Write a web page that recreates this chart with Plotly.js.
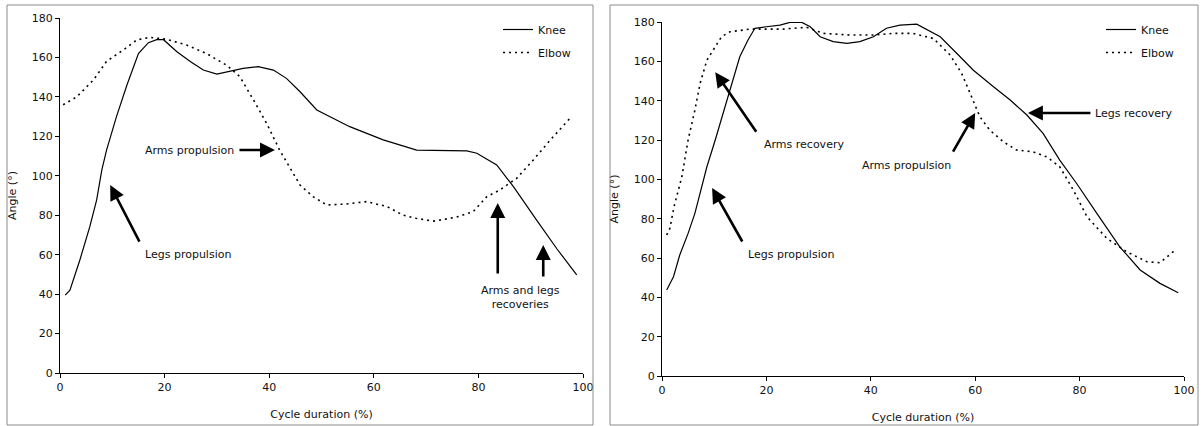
<!DOCTYPE html>
<html>
<head>
<meta charset="utf-8">
<script src="https://cdn.plot.ly/plotly-3.0.1.min.js"></script>
<style>html,body{margin:0;padding:0;background:#fff;}#chart{width:1202px;height:426px;}</style>
</head>
<body>
<div id="chart"></div>
<script>
// ---- Data ----
var seriesNames = ["Knee", "Elbow"];
var xTicks = [0, 20, 40, 60, 80, 100];
var yTicks = [0, 20, 40, 60, 80, 100, 120, 140, 160, 180];

// Left panel
var kneeLeftX = [1,1.9,3.8,5.7,7,8,8.9,10.8,12.8,15,16.9,18.5,19.8,22.3,24.9,27.4,30,32.5,35,37.9,40.8,43.3,45.9,49.1,55.4,61.8,68.2,77.8,79.7,83.5,86.7,91.1,95,98.8];
var kneeLeftY = [39.5,42,57.3,74.2,87.7,103,113,130,146,162,167.5,169,169,163,158,153.6,151.6,153,154.5,155.3,153.6,149.4,142.6,133.4,124.9,118.2,113,112.6,111.4,105.5,94.5,77.6,63,49.7];
var elbowLeftX = [0.6,3.2,6.4,8.9,12.1,14.7,17.2,20.4,24.2,28,31.9,34.4,37,39.5,42,44.6,45.9,48.4,51,54.8,58.6,62.5,65.6,68,71.4,75.8,79,81.6,84.1,87.3,90.5,93.7,97.8];
var elbowLeftY = [136,140,148.6,158,163.8,168.9,170.2,169.2,166.3,162,156,150.2,138.4,126.6,113,101.2,95.3,89.4,85.2,85.7,86.9,84.4,80,78.5,77,79,81.8,89.4,92.8,98.7,108,118,130];

// Right panel
var kneeRightX = [0.9,2.2,3.4,5,6.3,7.3,8.6,10.2,12.1,13.7,14.9,16.5,17.8,20,22.6,24.5,26.8,28.4,30.3,32.8,35.4,37.9,40.5,43,45.6,48.8,53.3,56.5,59.6,63.5,66.7,69.9,73,76.2,79.4,83.3,87.7,91.6,95.4,98.9];
var kneeRightY = [43.7,50.5,61.5,72.5,82.7,92.9,106.4,120,136.9,150.5,162.3,171,176.8,177.6,178.4,179.8,179.8,177.6,172.5,170,169.1,170,172.5,176.8,178.4,178.9,172.5,164,155.6,147.1,140.3,132.7,123.4,109.8,98,82.7,65.7,53.9,47.1,42.3];
var elbowRightX = [0.9,1.5,2.3,3.8,5,6.3,7.3,8.6,10.2,11.4,13,16.9,23.2,27.7,30.9,36,40.5,44.3,48.1,52,55.2,57.4,59.3,60.9,62.8,65.4,67.9,71.1,73.7,76.2,78.8,81.4,85.2,89,92.9,95.4,98.3];
var elbowRightY = [71.7,75,86,101.3,120,135.2,148.8,160.6,167.4,172.5,175,176.4,176.4,177.3,174.2,173.4,173.4,174.2,174.2,171.6,163.2,153.9,142,131.8,125,119.1,114.9,114,111.4,106.4,94.6,81,70,63.2,58.1,57.6,64];

// Annotation labels
var leftLabels = ["Arms propulsion", "Legs propulsion", "Arms and legs<br>recoveries"];
var rightLabels = ["Arms recovery", "Legs propulsion", "Arms propulsion", "Legs recovery"];

// ---- Layout helpers ----
var W = 1202, H = 426;
function px(x) { return x / W; }
function py(y) { return 1 - y / H; }

var FONT = "'DejaVu Sans', Verdana, sans-serif";
var TXT = {family: FONT, size: 11, color: "#111"};
var kneeLine = {color: "#000", width: 1.2};
var elbowLine = {color: "#000", width: 1.6, dash: "2px,4px"};

var traces = [
  {x: kneeLeftX, y: kneeLeftY, xaxis: "x", yaxis: "y", name: seriesNames[0], mode: "lines", line: kneeLine, legend: "legend", legendgroup: "a"},
  {x: elbowLeftX, y: elbowLeftY, xaxis: "x", yaxis: "y", name: seriesNames[1], mode: "lines", line: elbowLine, legend: "legend", legendgroup: "b"},
  {x: kneeRightX, y: kneeRightY, xaxis: "x2", yaxis: "y2", name: seriesNames[0], mode: "lines", line: kneeLine, legend: "legend2", legendgroup: "c"},
  {x: elbowRightX, y: elbowRightY, xaxis: "x2", yaxis: "y2", name: seriesNames[1], mode: "lines", line: elbowLine, legend: "legend2", legendgroup: "d"}
];

function xAxis(domain, anchor) {
  return {
    domain: domain, anchor: anchor, range: [0, 100], tickvals: xTicks, ticktext: xTicks.map(String),
    showgrid: false, zeroline: false, showline: true, linecolor: "#000", linewidth: 1,
    ticks: "outside", ticklen: 4, tickcolor: "#000", tickfont: TXT,
    title: {text: "Cycle duration (%)", font: TXT, standoff: 17},
    fixedrange: true
  };
}
function yAxis(domain, anchor) {
  return {
    domain: domain, anchor: anchor, range: [0, 180], tickvals: yTicks, ticktext: yTicks.map(String),
    showgrid: false, zeroline: false, showline: true, linecolor: "#000", linewidth: 1,
    ticks: "outside", ticklen: 4, tickcolor: "#000", tickfont: TXT,
    title: {text: "Angle (°)", font: TXT, standoff: 12},
    fixedrange: true
  };
}

function arrow(xref, yref, x, y, ax, ay) {
  return {xref: xref, yref: yref, x: x, y: y, ax: ax, ay: ay, text: "", showarrow: true,
          arrowhead: 2, arrowsize: 1.15, arrowwidth: 2.6, arrowcolor: "#000", standoff: 0, startstandoff: 0};
}
function label(xref, yref, x, y, text, xanchor) {
  return {xref: xref, yref: yref, x: x, y: y, text: text, showarrow: false, xanchor: xanchor || "center",
          yanchor: "middle", font: TXT};
}

var annotations = [
  // left panel
  arrow("x", "y", 41.1, 113.1, -37, 0),
  label("x", "y", 24.7, 112.6, leftLabels[0]),
  arrow("x", "y", 9.6, 95.3, 30, 58),
  label("x", "y", 24.5, 60.3, leftLabels[1]),
  arrow("x", "y", 83.7, 86.2, 0, 72),
  arrow("x", "y", 92.4, 64.9, 0, 33),
  label("x", "y", 88.1, 38.5, leftLabels[2]),
  // right panel
  arrow("x2", "y2", 10.2, 154.5, 42, 61),
  label("x2", "y2", 27.2, 117.9, rightLabels[0]),
  arrow("x2", "y2", 9.6, 95.6, 31, 55),
  label("x2", "y2", 24.7, 62, rightLabels[1]),
  arrow("x2", "y2", 60, 133.7, -23, 40),
  label("x2", "y2", 46.9, 106.8, rightLabels[2]),
  arrow("x2", "y2", 70.1, 133.7, 64, 0),
  label("x2", "y2", 82.6, 133.7, rightLabels[3], "left")
];

var layout = {
  width: W, height: H,
  margin: {l: 0, r: 0, t: 0, b: 0},
  paper_bgcolor: "#fff", plot_bgcolor: "#fff",
  font: TXT,
  xaxis: xAxis([px(60), px(583)], "y"),
  yaxis: yAxis([1 - 373 / H, 1 - 18 / H], "x"),
  xaxis2: xAxis([px(662), px(1184)], "y2"),
  yaxis2: yAxis([1 - 376 / H, 1 - 22 / H], "x2"),
  legend: {x: px(498), y: py(15), xanchor: "left", yanchor: "top", bgcolor: "rgba(0,0,0,0)",
           font: TXT, traceorder: "grouped", tracegroupgap: 4, itemwidth: 30},
  legend2: {x: px(1101), y: py(15), xanchor: "left", yanchor: "top", bgcolor: "rgba(0,0,0,0)",
           font: TXT, traceorder: "grouped", tracegroupgap: 4, itemwidth: 30},
  showlegend: true,
  annotations: annotations,
  shapes: [
    {type: "rect", xref: "paper", yref: "paper", x0: px(7), x1: px(593), y0: py(425), y1: py(5), line: {color: "#8c8c8c", width: 1}},
    {type: "rect", xref: "paper", yref: "paper", x0: px(610), x1: px(1198), y0: py(425), y1: py(5), line: {color: "#8c8c8c", width: 1}}
  ]
};

Plotly.newPlot("chart", traces, layout, {displayModeBar: false, staticPlot: true});
</script>
</body>
</html>
